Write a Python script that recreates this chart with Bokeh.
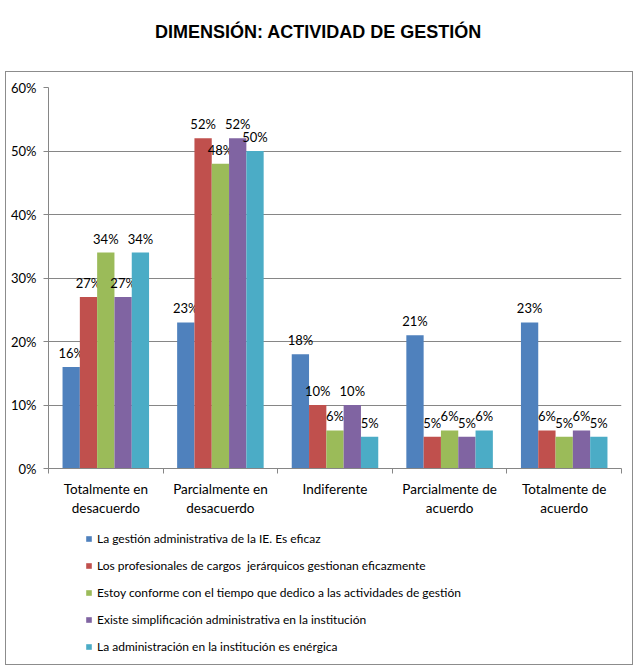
from bokeh.plotting import figure
from bokeh.models import (FixedTicker, NumeralTickFormatter, Legend, LegendItem,
                          ColumnDataSource, Range1d, Label)
from bokeh.layouts import column
from bokeh.core.properties import value
from bokeh.embed import file_html
from bokeh.resources import INLINE

categories = ["Totalmente en\ndesacuerdo", "Parcialmente en\ndesacuerdo", "Indiferente",
              "Parcialmente de\nacuerdo", "Totalmente de\nacuerdo"]
series_names = [
    "La gestión administrativa de la IE. Es eficaz",
    "Los profesionales de cargos  jerárquicos gestionan eficazmente",
    "Estoy conforme con el tiempo que dedico a las actividades de gestión",
    "Existe simplificación administrativa en la institución",
    "La administración en la institución es enérgica",
]
s1 = [16, 23, 18, 21, 23]
s2 = [27, 52, 10, 5, 6]
s3 = [34, 48, 6, 6, 5]
s4 = [27, 52, 10, 5, 6]
s5 = [34, 50, 5, 6, 5]
series = [s1, s2, s3, s4, s5]
colors = ["#4F81BD", "#C0504D", "#9BBB59", "#8064A2", "#4BACC6"]
y_ticks = [0, 0.1, 0.2, 0.3, 0.4, 0.5, 0.6]

FONT = "Lato"


def blank(fig):
    fig.axis.visible = False
    fig.grid.visible = False
    fig.outline_line_color = None


# title strip
t = figure(width=637, height=71, output_backend="svg", toolbar_location=None,
           x_range=Range1d(0, 1), y_range=Range1d(0, 1),
           min_border_left=0, min_border_right=0, min_border_top=0, min_border_bottom=0)
blank(t)
t.add_layout(Label(x=318, y=40, x_units="screen", y_units="screen",
                   text="DIMENSIÓN: ACTIVIDAD DE GESTIÓN", text_align="center",
                   text_baseline="middle", text_font="Liberation Sans",
                   text_font_size="18px", text_font_style="bold", text_color="#000000"))

# main chart
p = figure(width=626, height=454, output_backend="svg", toolbar_location=None,
           x_range=Range1d(-0.5, 4.5), y_range=Range1d(0, 0.6),
           min_border_left=42, min_border_right=11, min_border_top=15,
           min_border_bottom=58)

p.outline_line_color = None
p.xgrid.visible = False
p.ygrid.grid_line_color = "#868686"
p.ygrid.ticker = FixedTicker(ticks=y_ticks)

p.yaxis.ticker = FixedTicker(ticks=y_ticks)
p.yaxis.formatter = NumeralTickFormatter(format="0%")
p.yaxis.axis_line_color = "#868686"
p.yaxis.major_tick_line_color = "#868686"
p.yaxis.major_tick_out = 5
p.yaxis.major_tick_in = 0
p.yaxis.minor_tick_line_color = None
p.yaxis.major_label_text_font = FONT
p.yaxis.major_label_text_font_size = "13px"
p.yaxis.major_label_text_color = "#000000"
p.yaxis.major_label_standoff = 7

p.xaxis.ticker = FixedTicker(ticks=[0, 1, 2, 3, 4], minor_ticks=[-0.5, 0.5, 1.5, 2.5, 3.5, 4.5])
p.xaxis.major_label_overrides = {i: c for i, c in enumerate(categories)}
p.xaxis.axis_line_color = "#868686"
p.xaxis.major_tick_line_color = None
p.xaxis.minor_tick_line_color = "#868686"
p.xaxis.minor_tick_out = 5
p.xaxis.minor_tick_in = 0
p.xaxis.major_label_text_font = FONT
p.xaxis.major_label_text_font_size = "13.5px"
p.xaxis.major_label_text_color = "#000000"
p.xaxis.major_label_standoff = 6

w = 0.151
for k, (vals, col) in enumerate(zip(series, colors)):
    xs = [i + (k - 2) * w for i in range(len(vals))]
    ys = [v / 100 for v in vals]
    src = ColumnDataSource(dict(x=xs, y=ys, lab=[f"{v}%" for v in vals]))
    p.vbar(x="x", top="y", width=w, source=src, fill_color=col, line_color=None)
    p.text(x="x", y="y", text="lab", source=src, text_align="center",
           text_baseline="bottom", y_offset=-6, text_font=value(FONT),
           text_font_size="13px", text_color="#000000")

# legend strip (frame is aligned with the chart frame by the column layout)
lf = figure(width=626, height=138, output_backend="svg", toolbar_location=None,
            x_range=Range1d(0, 1), y_range=Range1d(0, 1),
            min_border_left=0, min_border_right=0, min_border_top=0, min_border_bottom=0)
blank(lf)
items = []
for col, name in zip(colors, series_names):
    r = lf.vbar(x=[-5], top=[-5], bottom=[-6], width=0.1, fill_color=col, line_color=None)
    items.append(LegendItem(label=name, renderers=[r]))
legend = Legend(items=items, location=(37, 8), orientation="vertical",
                label_text_font=FONT, label_text_font_size="12px",
                label_text_color="#000000", glyph_width=7, glyph_height=7,
                label_height=20, spacing=7, padding=0, margin=0,
                label_standoff=5, border_line_alpha=0, background_fill_alpha=0)
lf.add_layout(legend, "center")

box = column(p, lf, spacing=0)
box.styles = {"margin-left": "5px", "border": "1px solid #8c8c8c"}

layout = column(t, box, spacing=0)
open("out.html", "w").write(file_html(layout, INLINE))
